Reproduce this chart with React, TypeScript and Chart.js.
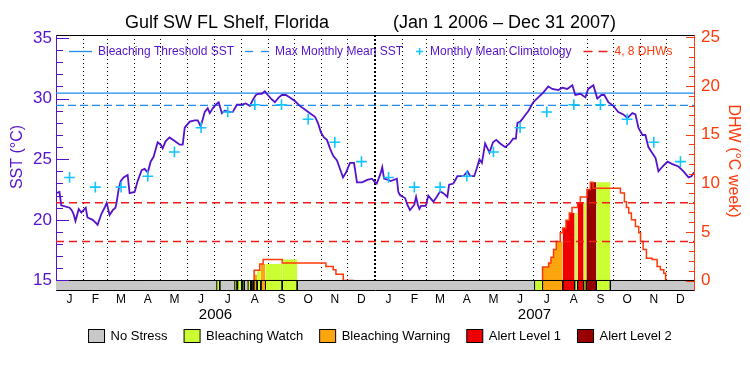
import React, { useEffect, useRef } from 'react';
import { Chart, registerables } from 'chart.js';

Chart.register(...registerables);

// ---------------- data ----------------
const titleLeft = 'Gulf SW FL Shelf, Florida';
const titleRight = '(Jan 1 2006 – Dec 31 2007)';
const sstTitle = 'SST (°C)';
const dhwTitle = 'DHW (°C week)';

const monthLetters = ['J', 'F', 'M', 'A', 'M', 'J', 'J', 'A', 'S', 'O', 'N', 'D'];
const monthLengths = [31, 28, 31, 30, 31, 30, 31, 31, 30, 31, 30, 31];
const yearLabels = ['2006', '2007'];
const sstTickLabels = [15, 20, 25, 30, 35];
const dhwTickLabels = [0, 5, 10, 15, 20, 25];

// monthly mean climatology (°C), Jan..Dec
const climatology = [23.5, 22.7, 22.7, 23.6, 25.6, 27.6, 28.9, 29.5, 29.5, 28.3, 26.4, 24.8];
const bleachingThreshold = 30.45;
const maxMonthlyMean = 29.45;
const dhwGuideLevels = [4, 8];

// SST: day since Jan 1 2006, value °C
const sstDays = [
  0, 4, 6, 15.5, 18, 20, 22.3, 26, 29, 34, 36, 42, 45, 47.6, 52, 55.6, 58, 61.3, 65, 68,
  69.3, 71.6, 74, 77.4, 82, 84.2, 90, 93.4, 98, 101.4, 105, 108.3, 111.7, 116.3, 119.8, 122, 125.5, 130, 135.8, 141.5,
  145, 147.3, 153, 158.7, 162.2, 165.6, 170.2, 173.6, 176, 179.4, 182.8, 186.2, 189.7, 193, 199, 202.3, 207, 212.6, 217.2, 221.8,
  225.2, 228.7, 232, 235.5, 239, 242.4, 246, 250.4, 255, 258.4, 263, 267.6, 273.3, 279, 284.8, 290.5, 296.3, 299.7, 303.2, 306.6,
  310, 313.5, 317, 321.5, 325, 328.4, 331.8, 336.4, 341, 344.4, 350.2, 356, 361.6, 365, 367, 371.5, 373.3, 375.3, 380.2, 383,
  390, 391.7, 393.6, 396.7, 399.4, 402, 405, 410, 412, 414, 415.8, 417.7, 423, 426, 431.8, 435.7, 439.5, 443.2, 447.8, 449.8,
  454.7, 459.3, 466.2, 470.8, 474, 478.5, 481.5, 484.5, 487.3, 491, 496, 500, 503.7, 508.2, 514, 519, 523, 526.2, 528, 531.2,
  537, 540.7, 546, 551.8, 557.5, 563.3, 567.8, 574.7, 579.3, 585, 590.8, 594.2, 600, 605.7, 609, 614.8, 619.4, 624, 627.4, 632,
  637.7, 643.4, 649.2, 653.8, 659.5, 663, 666.4, 671, 674.4, 677.8, 682.4, 686, 689.3, 694, 699.6, 705.3, 712.2, 718, 723.7, 727,
  730,
];
const sstValues = [
  22.2, 22.3, 21.2, 21.0, 20.8, 20.5, 19.9, 20.9, 20.6, 21.0, 20.2, 20.0, 19.8, 19.6, 20.5, 21.0, 21.4, 20.4, 20.8, 21.0,
  21.4, 22.5, 23.2, 23.5, 23.7, 22.2, 22.3, 23.2, 24.1, 24.2, 23.9, 24.8, 25.2, 26.4, 26.2, 25.9, 26.5, 26.8, 26.5, 26.2,
  26.2, 27.6, 28.1, 28.2, 28.2, 27.7, 28.9, 29.2, 28.8, 29.2, 29.5, 29.7, 28.8, 29.0, 28.9, 28.9, 29.5, 29.5, 29.6, 29.4,
  29.9, 30.3, 30.4, 30.4, 30.6, 30.3, 30.0, 29.7, 30.1, 30.3, 30.3, 30.1, 29.8, 29.4, 29.1, 28.8, 28.5, 28.0, 27.2, 26.8,
  26.6, 25.9, 25.3, 24.9, 24.2, 23.5, 23.9, 24.7, 24.7, 23.1, 23.1, 23.3, 23.4, 23.1, 23.0, 23.85, 24.35, 23.4, 23.3, 23.2,
  23.4, 22.3, 22.05, 21.9, 21.8, 21.25, 20.8, 21.25, 21.9, 21.25, 20.9, 21.15, 21.15, 22.0, 21.5, 21.9, 22.35, 22.2, 21.9, 22.9,
  23.0, 23.6, 23.6, 24.0, 23.6, 23.6, 24.25, 25.0, 24.7, 26.3, 25.55, 26.4, 26.6, 26.3, 26.0, 26.3, 26.7, 26.7, 28.0, 28.1,
  28.65, 29.0, 29.7, 30.1, 30.5, 31.0, 30.8, 30.7, 30.9, 30.8, 31.1, 30.3, 30.4, 30.1, 30.8, 31.1, 30.0, 30.3, 30.3, 29.7,
  29.4, 28.9, 28.7, 28.4, 28.8, 28.7, 27.6, 27.0, 27.0, 26.0, 25.5, 25.1, 24.0, 24.4, 24.8, 24.6, 24.4, 24.0, 23.5, 23.6,
  23.9,
];

// Degree Heating Weeks (step values, hold until next day)
const dhw2006Days = [226.7, 226.7, 233.2, 237, 258.8, 308.8, 317.2, 320.3, 328.7, 341];
const dhw2006Values = [0, 0.6, 1.05, 1.7, 2.15, 1.8, 1.45, 1.1, 0.65, 0];
const dhw2007Days = [
  556.7, 556.7, 563.6, 566.3, 569.3, 572.4, 577, 579.7, 583.5, 587.3, 590.4, 596.8, 599.9, 607.5, 611.4, 614.5,
  645.8, 650.4, 652.7, 655.3, 658.4, 663, 666.8, 668.8, 671.8, 675.6, 682.1, 687.8, 691.6, 695.4, 697.5, 699.3,
];
const dhw2007Values = [
  0, 0.6, 1.4, 1.8, 2.4, 3.2, 4.0, 4.9, 5.4, 6.2, 6.95, 7.5, 8.0, 8.6, 9.35, 10.1,
  9.5, 9.0, 8.1, 7.5, 6.95, 6.25, 5.55, 4.9, 4.0, 3.2, 2.3, 2.15, 1.45, 1.1, 0.75, 0,
];

// stress periods: start day, end day, level (1 watch, 2 warning, 3 alert 1, 4 alert 2)
const stressStart = [184, 204.6, 208, 213.7, 219.8, 223.7, 226.7, 230.1, 234.4, 239.7, 258.8, 547.6, 556.7, 579.7, 593.4, 596.8, 603.7, 606.8, 618.3];
const stressEnd = [187.4, 207.2, 212.6, 215.5, 222.6, 225.5, 230.1, 234.4, 239.7, 258.8, 276, 556.7, 579.7, 593.4, 596.8, 603.7, 606.8, 618.3, 634.3];
const stressLevel = [1, 1, 1, 1, 1, 1, 2, 1, 2, 1, 1, 1, 2, 3, 1, 3, 1, 4, 1];
const stressNames = ['No Stress', 'Bleaching Watch', 'Bleaching Warning', 'Alert Level 1', 'Alert Level 2'];

// ---------------- styles ----------------
const stressColors = ['#c8c8c8', '#ccff33', '#fca50f', '#ee0000', '#990000'];
const PURPLE = '#5512cc';
const CYAN = '#12c4ff';
const BLUE = '#1e8cf0';
const ORANGE = '#ff3a0a';
const RED = '#ee1c1c';
const FONT = "'Liberation Sans', Arial, sans-serif";

const SST_MIN = 14.2165;
const SST_MAX = 35.247;
const DHW_MIN = -0.977;
const DHW_MAX = 25.257;

// ---------------- derived ----------------
const allMonthLengths = [...monthLengths, ...monthLengths];
const monthStarts: number[] = [];
let acc = 0;
for (const L of allMonthLengths) { monthStarts.push(acc); acc += L; }
const totalDays = acc;
const daysPerYear = monthLengths.reduce((a, b) => a + b, 0);
const monthMids = monthStarts.map((s, i) => s + allMonthLengths[i] / 2);
const yearMids = yearLabels.map((_, i) => (i + 0.5) * daysPerYear);
const yearBounds = yearLabels.slice(1).map((_, i) => (i + 1) * daysPerYear);
const gridBounds = monthStarts.slice(1);

const dhwPoints = [
  ...dhw2006Days.map((d, i) => ({ x: d, y: dhw2006Values[i] })),
  ...dhw2007Days.map((d, i) => ({ x: d, y: dhw2007Values[i] })),
];
const dhwAt = (d: number) => {
  let v = 0;
  for (const p of dhwPoints) { if (p.x <= d) v = p.y; else break; }
  return v;
};

function buildDatasets() {
  const ds: any[] = [];
  const base = { type: 'line', pointRadius: 0, tension: 0, xAxisID: 'x' };

  // DHW fill coloured by stress level
  stressStart.forEach((s, i) => {
    const e = stressEnd[i];
    const pts = [{ x: s, y: dhwAt(s) }, ...dhwPoints.filter((p) => p.x > s && p.x < e), { x: e, y: dhwAt(e - 1e-6) }];
    if (Math.max(...pts.map((p) => p.y)) <= 0) return;
    ds.push({ ...base, data: pts, yAxisID: 'y2', stepped: 'after', borderWidth: 0, borderColor: 'rgba(0,0,0,0)',
      backgroundColor: stressColors[stressLevel[i]], fill: 'origin', order: 10 });
  });

  // DHW outline
  const dhwLine = [
    ...dhw2006Days.map((d, i) => ({ x: d, y: dhw2006Values[i] })),
    { x: (dhw2006Days[dhw2006Days.length - 1] + dhw2007Days[0]) / 2, y: null },
    ...dhw2007Days.map((d, i) => ({ x: d, y: dhw2007Values[i] })),
  ];
  ds.push({ ...base, data: dhwLine, yAxisID: 'y2', stepped: 'after', borderColor: ORANGE, borderWidth: 1.5, order: 8 });

  // stress bar background
  ds.push({ ...base, data: [{ x: 0, y: sstTickLabels[0] }, { x: totalDays, y: sstTickLabels[0] }], yAxisID: 'y',
    borderColor: '#000', borderWidth: 1, backgroundColor: stressColors[0], fill: 'start', order: 7 });
  // stress bar segments
  stressStart.forEach((s, i) => {
    const e = stressEnd[i];
    const top = sstTickLabels[0];
    ds.push({ ...base, data: [{ x: s, y: SST_MIN }, { x: s, y: top }, { x: e, y: top }, { x: e, y: SST_MIN }], yAxisID: 'y',
      borderColor: '#000', borderWidth: 1, backgroundColor: stressColors[stressLevel[i]], fill: 'start', order: 6 });
  });

  // DHW guide lines 4, 8
  dhwGuideLevels.forEach((lv) => {
    ds.push({ ...base, data: [{ x: 0, y: lv }, { x: totalDays, y: lv }], yAxisID: 'y2', borderColor: RED,
      borderWidth: 1.5, borderDash: [8, 5], order: 5 });
  });

  // threshold & MMM
  ds.push({ ...base, data: [{ x: 0, y: bleachingThreshold }, { x: totalDays, y: bleachingThreshold }], yAxisID: 'y',
    borderColor: BLUE, borderWidth: 1.3, order: 4 });
  ds.push({ ...base, data: [{ x: 0, y: maxMonthlyMean }, { x: totalDays, y: maxMonthlyMean }], yAxisID: 'y',
    borderColor: BLUE, borderWidth: 1.3, borderDash: [8, 4], order: 4 });

  // SST
  ds.push({ ...base, data: sstDays.map((d, i) => ({ x: d, y: sstValues[i] })), yAxisID: 'y',
    borderColor: PURPLE, borderWidth: 1.8, order: 1 });

  // climatology crosses
  const clim: any[] = [];
  yearLabels.forEach((_, yi) => climatology.forEach((v, m) => clim.push({ x: monthMids[yi * 12 + m], y: v })));
  ds.push({ type: 'line', xAxisID: 'x', yAxisID: 'y', data: clim, showLine: false, pointStyle: 'cross', pointRadius: 5.4,
    pointBorderColor: CYAN, pointBorderWidth: 1.6, borderColor: CYAN, order: 0 });
  return ds;
}

const decorPlugin = {
  id: 'decor',
  afterDraw(chart: any) {
    const { ctx, chartArea, scales } = chart;
    const ys = scales.y;
    const y2s = scales.y2;
    ctx.save();
    // inward ticks
    ctx.lineWidth = 1;
    ctx.strokeStyle = PURPLE;
    ys.ticks.forEach((t: any) => {
      const py = Math.round(ys.getPixelForValue(t.value)) + 0.5;
      const len = sstTickLabels.includes(t.value) ? 13 : 7;
      ctx.beginPath(); ctx.moveTo(chartArea.left, py); ctx.lineTo(chartArea.left + len, py); ctx.stroke();
    });
    ctx.strokeStyle = ORANGE;
    y2s.ticks.forEach((t: any) => {
      const py = Math.round(y2s.getPixelForValue(t.value)) + 0.5;
      const len = dhwTickLabels.includes(t.value) ? 8 : 5;
      ctx.beginPath(); ctx.moveTo(chartArea.right, py); ctx.lineTo(chartArea.right - len, py); ctx.stroke();
    });

    // title
    ctx.fillStyle = '#000';
    ctx.textBaseline = 'middle';
    ctx.font = `18px ${FONT}`;
    ctx.textAlign = 'left';
    ctx.fillText(titleLeft, 125, 23);
    ctx.textAlign = 'center';
    ctx.fillText(titleRight, 504.5, 23);

    // axis titles
    ctx.font = `16px ${FONT}`;
    ctx.save();
    ctx.translate(17.5, 157);
    ctx.rotate(-Math.PI / 2);
    ctx.fillStyle = PURPLE;
    ctx.fillText(sstTitle, 0, 0);
    ctx.restore();
    ctx.save();
    ctx.translate(733, 161);
    ctx.rotate(Math.PI / 2);
    ctx.fillStyle = ORANGE;
    ctx.fillText(dhwTitle, 0, 0);
    ctx.restore();

    // top legend (inside plot)
    const ly = 51.5;
    ctx.font = `12px ${FONT}`;
    ctx.textAlign = 'left';
    let x = 69;
    ctx.strokeStyle = BLUE; ctx.lineWidth = 1.3; ctx.setLineDash([]);
    ctx.beginPath(); ctx.moveTo(x, ly); ctx.lineTo(x + 23, ly); ctx.stroke();
    x += 29;
    ctx.fillStyle = PURPLE;
    ctx.fillText('Bleaching Threshold SST', x, ly);
    x += ctx.measureText('Bleaching Threshold SST').width + 11;
    ctx.setLineDash([8, 8]);
    ctx.beginPath(); ctx.moveTo(x, ly); ctx.lineTo(x + 24, ly); ctx.stroke();
    ctx.setLineDash([]);
    x += 30;
    ctx.fillText('Max Monthly Mean SST', x, ly);
    x += ctx.measureText('Max Monthly Mean SST').width + 13;
    ctx.strokeStyle = CYAN; ctx.lineWidth = 1.5;
    ctx.beginPath(); ctx.moveTo(x, ly); ctx.lineTo(x + 7, ly); ctx.moveTo(x + 3.5, ly - 3.5); ctx.lineTo(x + 3.5, ly + 3.5); ctx.stroke();
    x += 14;
    ctx.fillText('Monthly Mean Climatology', x, ly);
    x += ctx.measureText('Monthly Mean Climatology').width + 12;
    ctx.strokeStyle = RED; ctx.lineWidth = 1.5; ctx.setLineDash([9, 6]);
    ctx.beginPath(); ctx.moveTo(x, ly); ctx.lineTo(x + 25, ly); ctx.stroke();
    ctx.setLineDash([]);
    x += 31;
    ctx.fillStyle = ORANGE;
    ctx.fillText(`${dhwGuideLevels.join(', ')} DHWs`, x, ly);

    // bottom legend
    ctx.font = `13px ${FONT}`;
    let bx = 88.5;
    const by = 329.5;
    stressNames.forEach((name, i) => {
      ctx.fillStyle = stressColors[i];
      ctx.fillRect(bx, by, 16, 13);
      ctx.strokeStyle = '#000'; ctx.lineWidth = 1;
      ctx.strokeRect(bx, by, 16, 13);
      ctx.fillStyle = '#000';
      ctx.fillText(name, bx + 22, by + 7);
      bx += 22 + ctx.measureText(name).width + 16.5;
    });
    ctx.restore();
  },
};

export default function App() {
  const ref = useRef<HTMLCanvasElement>(null);
  useEffect(() => {
    Chart.defaults.font.family = FONT;
    const noGrid = { display: false, drawOnChartArea: false, drawTicks: false };
    const isYear = (c: any) => c && c.tick && yearBounds.includes(c.tick.value);
    const chart = new Chart(ref.current as HTMLCanvasElement, {
      type: 'line',
      data: { datasets: buildDatasets() },
      plugins: [decorPlugin],
      options: {
        responsive: false,
        animation: false,
        events: [],
        layout: { padding: { top: 35, left: 0, right: 0, bottom: 49 } },
        plugins: { legend: { display: false }, tooltip: { enabled: false }, title: { display: false } },
        scales: {
          x: {
            type: 'linear', position: 'bottom', min: 0, max: totalDays, weight: 0,
            grid: noGrid, border: { display: true, color: '#000', width: 1 },
            afterBuildTicks: (s: any) => { s.ticks = monthMids.map((v) => ({ value: v })); },
            afterFit: (s: any) => { s.height = 16; },
            ticks: { autoSkip: false, maxRotation: 0, minRotation: 0, padding: 2, color: '#000', font: { size: 12 },
              callback: (_v: any, i: number) => monthLetters[i % 12] },
          },
          xy: {
            type: 'linear', position: 'bottom', min: 0, max: totalDays, weight: 1,
            grid: noGrid, border: { display: false },
            afterBuildTicks: (s: any) => { s.ticks = yearMids.map((v) => ({ value: v })); },
            afterFit: (s: any) => { s.height = 20; },
            ticks: { autoSkip: false, maxRotation: 0, minRotation: 0, padding: 0, color: '#000', font: { size: 15 },
              callback: (_v: any, i: number) => yearLabels[i] },
          },
          xg: {
            type: 'linear', position: 'top', min: 0, max: totalDays, weight: 0,
            grid: {
              display: true, drawOnChartArea: true, drawTicks: false, color: '#000',
              lineWidth: (c: any) => (isYear(c) ? 2 : 1),
            },
            border: { display: false, dash: (c: any) => (isYear(c) ? [2, 2] : [1, 3]) },
            afterBuildTicks: (s: any) => { s.ticks = gridBounds.map((v) => ({ value: v })); },
            afterFit: (s: any) => { s.height = 0; },
            ticks: { display: false, autoSkip: false },
          },
          xt: {
            type: 'linear', position: 'top', min: 0, max: totalDays, weight: 1,
            grid: noGrid, border: { display: true, color: '#000', width: 1 },
            ticks: { display: false },
            afterFit: (s: any) => { s.height = 0; },
          },
          y: {
            type: 'linear', position: 'left', min: SST_MIN, max: SST_MAX,
            grid: noGrid, border: { display: true, color: PURPLE, width: 1 },
            afterBuildTicks: (s: any) => {
              const t: any[] = [];
              for (let v = sstTickLabels[0]; v <= sstTickLabels[sstTickLabels.length - 1]; v++) t.push({ value: v });
              s.ticks = t;
            },
            afterFit: (s: any) => { s.width = 56; },
            ticks: { autoSkip: false, padding: 4, color: PURPLE, font: { size: 17 },
              callback: (v: any) => (sstTickLabels.includes(v) ? String(v) : '') },
          },
          y2: {
            type: 'linear', position: 'right', min: DHW_MIN, max: DHW_MAX,
            grid: noGrid, border: { display: true, color: ORANGE, width: 1 },
            afterBuildTicks: (s: any) => {
              const t: any[] = [];
              for (let v = dhwTickLabels[0]; v <= dhwTickLabels[dhwTickLabels.length - 1]; v++) t.push({ value: v });
              s.ticks = t;
            },
            afterFit: (s: any) => { s.width = 56; },
            ticks: { autoSkip: false, padding: 7, color: ORANGE, font: { size: 17 },
              callback: (v: any) => (dhwTickLabels.includes(v) ? String(v) : '') },
          },
        },
      } as any,
    });
    return () => chart.destroy();
  }, []);
  return (
    <div style={{ position: 'absolute', left: 0, top: 0, width: 750, height: 375, background: '#fff' }}>
      <canvas ref={ref} width={750} height={375} style={{ display: 'block', width: 750, height: 375 }} />
    </div>
  );
}
